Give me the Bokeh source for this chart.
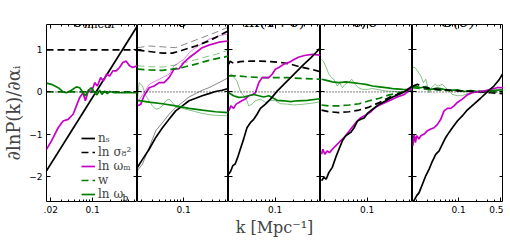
from bokeh.plotting import figure
from bokeh.models import Range1d, FixedTicker, LogAxis, LinearAxis, Label, Legend, LegendItem, Span
from bokeh.layouts import row
from bokeh.embed import file_html
from bokeh.resources import INLINE

# ---------------- data ----------------
# panel 1: delta_linear
lin_ns_k = [0.017, 0.56]
lin_ns_y = [-1.87, 1.57]
lin_s8_k = [0.017, 0.56]
lin_s8_y = [1.0, 1.0]
lin_wm_k = [0.0170, 0.0206, 0.0266, 0.0322, 0.0390, 0.0472, 0.0536, 0.0609, 0.0692, 0.0756, 0.0859, 0.0952, 0.108,
            0.120, 0.136, 0.151, 0.171, 0.192, 0.218, 0.247, 0.281, 0.319, 0.363, 0.412, 0.468, 0.55]
lin_wm_y = [-1.36, -1.16, -0.85, -0.69, -0.65, -0.53, -0.33, -0.13, -0.02, -0.21, 0.06, -0.02, 0.22,
            0.14, 0.34, 0.26, 0.42, 0.38, 0.50, 0.50, 0.58, 0.70, 0.73, 0.62, 0.58, 0.62]
lin_w_k = [0.017, 0.56]
lin_w_y = [0.0, 0.0]
lin_wb_k = [0.0170, 0.0206, 0.0266, 0.0322, 0.0366, 0.0443, 0.0536, 0.0609, 0.0692, 0.0756, 0.0838, 0.0952, 0.108,
            0.118, 0.131, 0.143, 0.159, 0.175, 0.194, 0.232, 0.56]
lin_wb_y = [0.21, 0.18, 0.10, 0.0, -0.02, 0.04, 0.12, 0.10, -0.02, -0.09, 0.02, 0.10, -0.02,
            -0.07, 0.04, -0.06, 0.02, -0.04, 0.01, -0.02, -0.02]

# panel 2: delta
del_s8_k = [0.0170, 0.0266, 0.0443, 0.0649, 0.0952, 0.159, 0.264, 0.56]
del_s8_y = [0.99, 0.96, 0.92, 0.92, 0.99, 1.09, 1.21, 1.45]
del_s8t_k = [0.0170, 0.0266, 0.0443, 0.0737, 0.123, 0.204, 0.340, 0.56]
del_s8t_y = [1.05, 1.09, 1.07, 1.05, 1.17, 1.29, 1.41, 1.54]
del_wm_k = [0.0170, 0.0193, 0.0219, 0.0266, 0.0322, 0.0390, 0.0472, 0.0571, 0.0692, 0.0838, 0.101, 0.123, 0.159,
            0.204, 0.264, 0.387, 0.56]
del_wm_y = [-0.33, -0.29, -0.09, 0.10, 0.14, 0.22, 0.22, 0.34, 0.54, 0.55, 0.70, 0.81, 0.93,
            1.05, 1.11, 1.18, 1.21]
del_wmt_k = [0.0170, 0.0219, 0.0266, 0.0390, 0.0571, 0.0692, 0.101, 0.123, 0.159, 0.204, 0.264, 0.387, 0.56]
del_wmt_y = [-0.25, -0.02, 0.18, 0.30, 0.42, 0.62, 0.77, 0.93, 1.05, 1.15, 1.25, 1.33, 1.38]
del_w_k = [0.0170, 0.0266, 0.0443, 0.0649, 0.0952, 0.159, 0.264, 0.56]
del_w_y = [0.54, 0.52, 0.51, 0.54, 0.58, 0.66, 0.75, 0.85]
del_wt_k = [0.0170, 0.0266, 0.0443, 0.0737, 0.123, 0.204, 0.340, 0.56]
del_wt_y = [0.62, 0.60, 0.59, 0.64, 0.72, 0.81, 0.89, 0.99]
del_ns_k = [0.0170, 0.0206, 0.0266, 0.0343, 0.0443, 0.0571, 0.0737, 0.0952, 0.123, 0.159, 0.204, 0.264, 0.340,
            0.439, 0.56]
del_ns_y = [-1.79, -1.60, -1.36, -1.08, -0.85, -0.65, -0.45, -0.33, -0.21, -0.15, -0.09, -0.04, 0.01, 0.04, 0.08]
del_nst_k = [0.0170, 0.0186, 0.0206, 0.0266, 0.0343, 0.0443, 0.0571, 0.0737, 0.0952, 0.123, 0.159, 0.204, 0.264,
             0.340, 0.439, 0.56]
del_nst_y = [-1.87, -1.79, -1.71, -1.32, -0.92, -0.73, -0.53, -0.37, -0.25, -0.12, -0.04, 0.04, 0.10,
             0.18, 0.26, 0.34]
del_wb_k = [0.0170, 0.0266, 0.0443, 0.0737, 0.123, 0.204, 0.340, 0.56]
del_wb_y = [-0.20, -0.24, -0.28, -0.33, -0.39, -0.43, -0.47, -0.49]
del_wbt_k = [0.0170, 0.0181, 0.0206, 0.0234, 0.0266, 0.0302, 0.0343, 0.0390, 0.0443, 0.0503, 0.0571, 0.0649,
             0.0737, 0.0952, 0.123, 0.159, 0.204, 0.300, 0.439, 0.56]
del_wbt_y = [-0.17, 0.22, 0.14, -0.09, -0.21, -0.33, -0.41, -0.39, -0.33, -0.21, -0.17, -0.25,
             -0.36, -0.39, -0.43, -0.47, -0.51, -0.55, -0.56, -0.57]

# panel 3: ln(1+delta)
log_ns_k = [0.0172, 0.0186, 0.0200, 0.0219, 0.0240, 0.0266, 0.0302, 0.0343, 0.0390, 0.0443, 0.0503, 0.0571,
            0.0692, 0.0838, 0.108, 0.139, 0.180, 0.232, 0.300, 0.387, 0.468, 0.56]
log_ns_y = [-1.95, -1.87, -1.75, -1.71, -1.56, -1.36, -1.12, -0.85, -0.73, -0.65, -0.53, -0.39,
            -0.29, -0.17, 0.02, 0.18, 0.34, 0.50, 0.66, 0.81, 0.93, 1.05]
log_s8_k = [0.0172, 0.0181, 0.0206, 0.0266, 0.0390, 0.0571, 0.0838, 0.123, 0.180, 0.264, 0.387, 0.56]
log_s8_y = [0.66, 0.73, 0.68, 0.72, 0.73, 0.73, 0.72, 0.70, 0.66, 0.59, 0.54, 0.48]
log_w_k = [0.0172, 0.0234, 0.0343, 0.0571, 0.0952, 0.159, 0.264, 0.56]
log_w_y = [0.38, 0.38, 0.36, 0.34, 0.34, 0.34, 0.32, 0.30]
log_wm_k = [0.0172, 0.0186, 0.0206, 0.0228, 0.0252, 0.0283, 0.0322, 0.0366, 0.0415, 0.0472, 0.0536, 0.0609,
            0.0692, 0.0786, 0.0893, 0.101, 0.115, 0.139, 0.169, 0.204, 0.247, 0.319, 0.412, 0.56]
log_wm_y = [-0.45, -0.33, -0.39, -0.29, -0.25, -0.21, -0.17, -0.09, -0.07, -0.02, 0.22, 0.34,
            0.34, 0.34, 0.42, 0.54, 0.58, 0.66, 0.70, 0.77, 0.83, 0.87, 0.89, 0.87]
log_wb_k = [0.0172, 0.0206, 0.0249, 0.0302, 0.0366, 0.0443, 0.0536, 0.0649, 0.0786, 0.0893, 0.108, 0.139,
            0.180, 0.232, 0.340, 0.56]
log_wb_y = [-0.02, -0.09, -0.13, -0.12, -0.09, -0.06, -0.09, -0.12, -0.09, -0.13, -0.20, -0.21,
            -0.23, -0.21, -0.20, -0.16]
log_wbt_k = [0.0177, 0.0190, 0.0211, 0.0234, 0.0266, 0.0302, 0.0343, 0.0366, 0.0415, 0.0472, 0.0571, 0.0692,
             0.0838, 0.101, 0.123, 0.159, 0.204, 0.300, 0.439, 0.56]
log_wbt_y = [0.38, 0.43, 0.34, 0.26, 0.02, -0.09, -0.21, -0.33, -0.29, -0.21, -0.17, -0.25,
             -0.20, -0.21, -0.28, -0.29, -0.31, -0.29, -0.26, -0.23]

# panel 4: delta/sigma
dsig_wb_k = [0.0177, 0.0206, 0.0266, 0.0343, 0.0443, 0.0571, 0.0737, 0.0952, 0.123, 0.159, 0.204, 0.264, 0.387, 0.56]
dsig_wb_y = [0.30, 0.28, 0.24, 0.22, 0.24, 0.22, 0.20, 0.18, 0.14, 0.12, 0.10, 0.08, 0.06, 0.05]
dsig_wbt_k = [0.0177, 0.0190, 0.0211, 0.0234, 0.0259, 0.0283, 0.0322, 0.0352, 0.0390, 0.0431, 0.0490, 0.0557,
              0.0633, 0.0719, 0.0838, 0.101, 0.123, 0.159, 0.204, 0.300, 0.56]
dsig_wbt_y = [0.77, 0.73, 0.58, 0.42, 0.34, 0.30, 0.14, 0.22, 0.10, 0.18, 0.22, 0.30,
              0.18, 0.10, 0.06, 0.06, 0.08, 0.05, 0.02, 0.01, 0.01]
dsig_w_k = [0.0177, 0.0234, 0.0343, 0.0503, 0.0737, 0.108, 0.159, 0.232, 0.340, 0.56]
dsig_w_y = [-0.31, -0.33, -0.33, -0.31, -0.28, -0.21, -0.15, -0.07, -0.02, 0.04]
dsig_s8_k = [0.0177, 0.0234, 0.0343, 0.0503, 0.0737, 0.108, 0.159, 0.232, 0.340, 0.56]
dsig_s8_y = [-0.43, -0.47, -0.49, -0.47, -0.43, -0.36, -0.25, -0.13, -0.04, 0.10]
dsig_wm_k = [0.0177, 0.0186, 0.0200, 0.0219, 0.0240, 0.0266, 0.0302, 0.0343, 0.0390, 0.0443, 0.0536, 0.0649,
             0.0786, 0.0952, 0.115, 0.139, 0.180, 0.232, 0.300, 0.412, 0.56]
dsig_wm_y = [-1.48, -1.36, -1.48, -1.40, -1.44, -1.36, -1.28, -1.20, -1.12, -1.04, -0.88, -0.73,
             -0.61, -0.55, -0.47, -0.36, -0.28, -0.21, -0.13, -0.06, 0.10]
dsig_ns_k = [0.0177, 0.0193, 0.0211, 0.0234, 0.0266, 0.0302, 0.0343, 0.0390, 0.0443, 0.0536, 0.0609, 0.0692,
             0.0786, 0.0893, 0.101, 0.123, 0.159, 0.204, 0.264, 0.387, 0.56]
dsig_ns_y = [-2.11, -2.03, -2.07, -1.91, -1.79, -1.56, -1.36, -1.16, -1.04, -0.96, -0.85, -0.69,
             -0.65, -0.62, -0.51, -0.41, -0.29, -0.21, -0.12, -0.02, 0.14]

# panel 5: G(delta)
g_wbt_k = [0.0172, 0.0186, 0.0206, 0.0234, 0.0259, 0.0283, 0.0322, 0.0352, 0.0400, 0.0454, 0.0536, 0.0609,
           0.0692, 0.0786, 0.0952, 0.115, 0.139, 0.180, 0.232, 0.340, 0.56]
g_wbt_y = [0.58, 0.58, 0.50, 0.38, 0.22, 0.30, -0.02, 0.10, 0.18, 0.14, 0.18, 0.10,
           0.02, -0.06, -0.09, -0.09, -0.04, 0.01, -0.02, 0.02, 0.06]
g_wb_k = [0.0172, 0.0206, 0.0234, 0.0283, 0.0343, 0.0443, 0.0571, 0.0737, 0.0952, 0.123, 0.159, 0.204, 0.264,
          0.387, 0.56]
g_wb_y = [0.14, 0.12, 0.10, 0.13, 0.06, 0.09, 0.06, 0.04, 0.05, 0.01, 0.03, 0.01, 0.02, 0.04, 0.05]
g_w_k = [0.0172, 0.0302, 0.0571, 0.108, 0.204, 0.56]
g_w_y = [0.10, 0.06, 0.04, 0.02, 0.01, 0.0]
g_s8_k = [0.0172, 0.0206, 0.0266, 0.0443, 0.0737, 0.123, 0.204, 0.340, 0.56]
g_s8_y = [0.14, 0.18, 0.10, 0.06, 0.04, 0.02, 0.01, -0.02, -0.04]
g_wm_k = [0.0172, 0.0181, 0.0190, 0.0200, 0.0217, 0.0234, 0.0266, 0.0302, 0.0343, 0.0390, 0.0443, 0.0503,
          0.0571, 0.0649, 0.0737, 0.0838, 0.0952, 0.115, 0.139, 0.169, 0.204, 0.264, 0.340, 0.439, 0.56]
g_wm_y = [-1.28, -1.00, -1.20, -1.04, -1.12, -1.04, -1.00, -0.92, -0.88, -0.85, -0.77, -0.65,
          -0.45, -0.39, -0.39, -0.33, -0.25, -0.17, -0.07, -0.02, 0.0, 0.02, 0.06, 0.10, 0.10]
g_ns_k = [0.0172, 0.0186, 0.0200, 0.0219, 0.0249, 0.0283, 0.0322, 0.0366, 0.0415, 0.0472, 0.0536, 0.0609,
          0.0692, 0.0786, 0.0952, 0.115, 0.139, 0.180, 0.232, 0.300, 0.387, 0.468, 0.56]
g_ns_y = [-2.62, -2.54, -2.46, -2.39, -2.19, -1.99, -1.83, -1.64, -1.48, -1.40, -1.24, -1.08,
          -0.96, -0.85, -0.69, -0.57, -0.43, -0.29, -0.15, 0.0, 0.14, 0.28, 0.46]

# tick / legend text
legend_labels = ["nₛ", "ln σ₈²", "ln ωₘ", "w", "ln ω"]
y_ticks = [-2, -1, 0, 1]
y_tick_labels = {-2: "−2", -1: "−1", 0: "0", 1: "1"}
x_major = [[0.02, 0.1], [0.1], [0.1], [0.1], [0.1, 0.5]]
x_tick_labels = {0.02: ".02", 0.1: "0.1", 0.5: "0.5"}
x_minor_all = [0.02, 0.03, 0.04, 0.05, 0.06, 0.07, 0.08, 0.09, 0.2, 0.3, 0.4, 0.5]

# ---------------- styling ----------------
K_MIN, K_MAX = 0.017, 0.56
Y_MIN, Y_MAX = -2.6, 1.6
FRAME_W = [91, 91, 92, 92, 91]
FRAME_H = 177
BLACK, MAG, GREEN = "black", "#c800c8", "#008000"
DASH = "7 4"
STYLE = {
    "ns": dict(line_color=BLACK),
    "s8": dict(line_color=BLACK, line_dash=DASH),
    "wm": dict(line_color=MAG),
    "w": dict(line_color=GREEN, line_dash=DASH),
    "wb": dict(line_color=GREEN),
}

panels = [
    [("ns", lin_ns_k, lin_ns_y, False), ("s8", lin_s8_k, lin_s8_y, False), ("wm", lin_wm_k, lin_wm_y, False),
     ("w", lin_w_k, lin_w_y, False), ("wb", lin_wb_k, lin_wb_y, False)],
    [("s8", del_s8t_k, del_s8t_y, True), ("wm", del_wmt_k, del_wmt_y, True), ("w", del_wt_k, del_wt_y, True),
     ("ns", del_nst_k, del_nst_y, True), ("wb", del_wbt_k, del_wbt_y, True),
     ("s8", del_s8_k, del_s8_y, False), ("wm", del_wm_k, del_wm_y, False), ("w", del_w_k, del_w_y, False),
     ("ns", del_ns_k, del_ns_y, False), ("wb", del_wb_k, del_wb_y, False)],
    [("wb", log_wbt_k, log_wbt_y, True), ("s8", log_s8_k, log_s8_y, False), ("w", log_w_k, log_w_y, False),
     ("wm", log_wm_k, log_wm_y, False), ("wb", log_wb_k, log_wb_y, False), ("ns", log_ns_k, log_ns_y, False)],
    [("wb", dsig_wbt_k, dsig_wbt_y, True), ("wb", dsig_wb_k, dsig_wb_y, False), ("w", dsig_w_k, dsig_w_y, False),
     ("s8", dsig_s8_k, dsig_s8_y, False), ("wm", dsig_wm_k, dsig_wm_y, False), ("ns", dsig_ns_k, dsig_ns_y, False)],
    [("wb", g_wbt_k, g_wbt_y, True), ("wb", g_wb_k, g_wb_y, False), ("w", g_w_k, g_w_y, False),
     ("s8", g_s8_k, g_s8_y, False), ("wm", g_wm_k, g_wm_y, False), ("ns", g_ns_k, g_ns_y, False)],
]
titles = [("δ", "italic"), ("δ", "italic"), ("ln(1+δ)", "normal"), ("δ/σ", "italic"), ("G(δ)", "italic")]


def style_axis(ax, show_labels):
    ax.major_tick_in = 4
    ax.major_tick_out = 0
    ax.minor_tick_in = 2
    ax.minor_tick_out = 0
    ax.axis_line_color = None
    ax.major_tick_line_color = "black"
    ax.minor_tick_line_color = "black"
    if show_labels:
        ax.major_label_text_font = "DejaVu Sans"
        ax.major_label_text_font_size = "9px"
        ax.major_label_text_color = "black"
        ax.major_label_standoff = 4
    else:
        ax.major_label_text_color = None
        ax.major_label_standoff = 0


figs = []
for i, series in enumerate(panels):
    p = figure(frame_width=FRAME_W[i], frame_height=FRAME_H, x_axis_type="log",
               x_range=Range1d(K_MIN, K_MAX), y_range=Range1d(Y_MIN, Y_MAX),
               output_backend="svg", toolbar_location=None,
               min_border_left=45 if i == 0 else 0, min_border_right=0,
               min_border_top=24, min_border_bottom=0)
    p.grid.visible = False
    p.outline_line_color = "black"
    p.outline_line_width = 1
    p.background_fill_color = "white"
    p.border_fill_color = "white"

    minor = [m for m in x_minor_all if m not in x_major[i]]
    xt = FixedTicker(ticks=x_major[i], minor_ticks=minor)
    yt = FixedTicker(ticks=y_ticks)

    xb = p.below[0]
    xb.ticker = xt
    xb.major_label_overrides = {t: x_tick_labels[t] for t in x_major[i]}
    style_axis(xb, True)
    yl = p.left[0]
    yl.ticker = yt
    yl.major_label_overrides = y_tick_labels
    style_axis(yl, i == 0)

    xa = LogAxis(ticker=xt)
    style_axis(xa, False)
    p.add_layout(xa, "above")
    yr = LinearAxis(ticker=yt)
    style_axis(yr, False)
    p.add_layout(yr, "right")

    p.add_layout(Span(location=0, dimension="width", line_color="black", line_width=1, line_dash="1 2"))

    rends = {}
    for key, ks, ys, thin in series:
        st = dict(STYLE[key])
        if thin:
            r = p.line(ks, ys, line_width=0.8, line_alpha=0.6, **st)
        else:
            r = p.line(ks, ys, line_width=1.7, **st)
            rends[key] = r

    t, style = titles[i]
    if i == 0:
        p.add_layout(Label(x=37, y=FRAME_H + 3.5, x_units="screen", y_units="screen", text=t,
                           text_align="right", text_baseline="alphabetic", text_font="DejaVu Serif",
                           text_font_size="16px", text_font_style=style, text_color="black"))
        p.add_layout(Label(x=37, y=FRAME_H, x_units="screen", y_units="screen", text="linear",
                           text_align="left", text_baseline="alphabetic", text_font="DejaVu Serif",
                           text_font_size="11px", text_color="black"))
    else:
        p.add_layout(Label(x=FRAME_W[i] / 2, y=FRAME_H + 3.5, x_units="screen", y_units="screen", text=t,
                           text_align="center", text_baseline="alphabetic", text_font="DejaVu Serif",
                           text_font_size="16px", text_font_style=style, text_color="black"))

    if i == 0:
        yl.axis_label = "∂lnP(k)/∂αᵢ"
        yl.axis_label_text_font = "DejaVu Serif"
        yl.axis_label_text_font_size = "18px"
        yl.axis_label_text_font_style = "normal"
        yl.axis_label_standoff = 2
        items = [LegendItem(label=lab, renderers=[rends[key]])
                 for lab, key in zip(legend_labels, ["ns", "s8", "wm", "w", "wb"])]
        leg = Legend(items=items, location=(35, 0), padding=0, margin=0, spacing=0,
                     glyph_width=14, glyph_height=14, label_height=14, label_standoff=3,
                     label_text_font="DejaVu Serif", label_text_font_size="12px",
                     background_fill_alpha=0, border_line_color=None)
        p.add_layout(leg)
        p.add_layout(Label(x=76, y=4, x_units="screen", y_units="screen", text="b",
                           text_align="left", text_baseline="alphabetic", text_font="DejaVu Serif",
                           text_font_size="9px", text_color="black"))
    if i == 2:
        xb.axis_label = "k [Mpc⁻¹]"
        xb.axis_label_text_font = "DejaVu Serif"
        xb.axis_label_text_font_size = "16px"
        xb.axis_label_text_font_style = "normal"
        xb.axis_label_standoff = 2
    figs.append(p)

layout = row(*figs, spacing=0)
open("out.html", "w").write(file_html(layout, INLINE))
